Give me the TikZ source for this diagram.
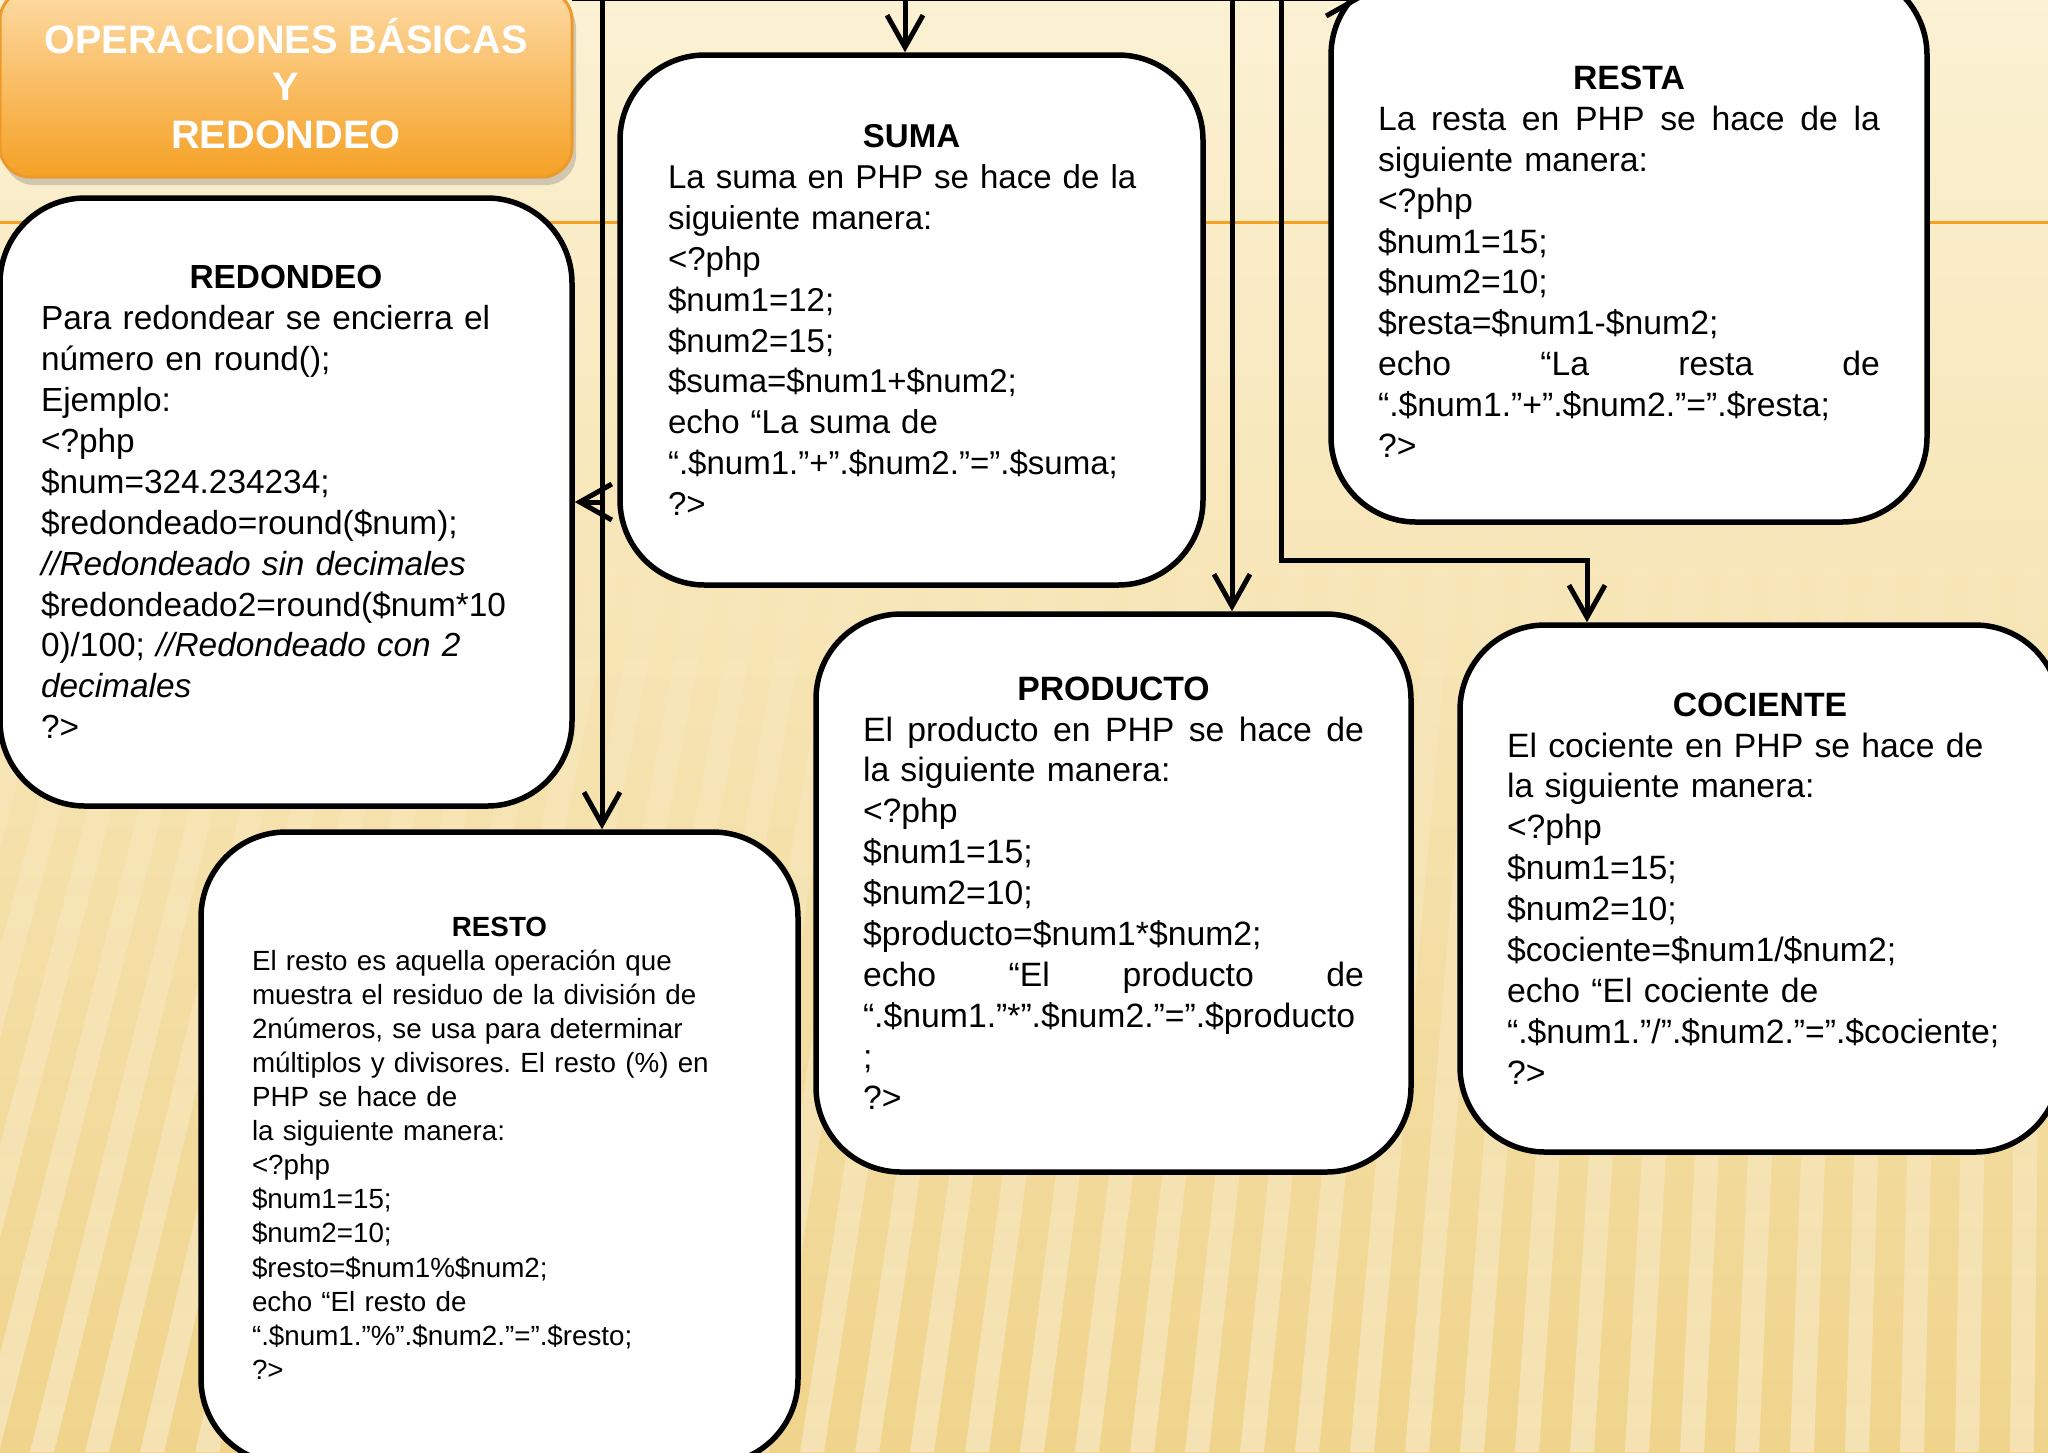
\documentclass[tikz,border=0pt]{standalone}
\usepackage{fontspec}
\setmainfont{Liberation Sans}
\usetikzlibrary{arrows.meta,shadows,fadings}
\frenchspacing
\definecolor{fondoarriba}{HTML}{FBF1D3}
\definecolor{fondoabajo}{HTML}{F0D48C}
\definecolor{naranja}{HTML}{F5A125}
\definecolor{naranjaclaro}{HTML}{FDDAA4}
\definecolor{naranjaborde}{HTML}{EE9A2A}
\newcommand{\cabeza}[1]{\hfill\textbf{#1}\hfill\null\\}
\newcommand{\justa}[2]{\leavevmode\hbox to #1{#2}}
\tikzset{
  caja/.style={draw,line width=.55mm,fill=white,rounded corners=8.5mm,align=left,inner ysep=0pt,font=\fontsize{9.6}{11.65}\selectfont},
  flecha/.style={line width=.5mm,-{Straight Barb[length=3.2mm,width=3.6mm]}},
  portada/.style={draw=naranjaborde,line width=.3mm,rounded corners=3mm,top color=naranjaclaro,bottom color=naranja,text=white,align=center,font=\bfseries\fontsize{11.3}{13.5}\selectfont,drop shadow={opacity=.35,shadow xshift=.4mm,shadow yshift=-.8mm}}
}
\begin{document}
\begin{tikzpicture}[x=.1mm,y=-.1mm]
\useasboundingbox (0,0) rectangle (2048,1452);
\clip (0,0) rectangle (2048,1452);
\fill[top color=fondoarriba,bottom color=fondoabajo] (0,0) rectangle (2048,1452);
\foreach \x in {-300,-245,...,2100} \fill[white,opacity=.35,path fading=north] (\x,1452) -- ++(24,0) -- ({\x+24+.12*(2100-\x)},450) -- ({\x+.12*(2100-\x)},450) -- cycle;
\draw[naranja,line width=.3mm] (0,222) -- (2048,222);

\node[portada,minimum width=57.2mm,minimum height=18.7mm] (titulo) at (286,83.5) {OPERACIONES BÁSICAS\\Y\\REDONDEO};

\node[caja,text width=49mm,inner xsep=4.1mm,minimum height=60.8mm,font=\fontsize{9.5}{11.65}\selectfont] (redondeo) at (286,502) {\cabeza{REDONDEO}
Para redondear se encierra el\\
número en round();\\
Ejemplo:\\
<?php\\
\$num=324.234234;\\
\$redondeado=round(\$num);\\
\textit{//Redondeado sin decimales}\\
\$redondeado2=round(\$num*10\\
0)/100; \textit{//Redondeado con 2}\\
\textit{decimales}\\
?>};

\node[caja,text width=48.7mm,inner xsep=4.8mm,minimum height=53mm,font=\fontsize{9.4}{11.65}\selectfont] (suma) at (911.5,320) {\cabeza{SUMA}
La suma en PHP se hace de la\\
siguiente manera:\\
<?php\\
\$num1=12;\\
\$num2=15;\\
\$suma=\$num1+\$num2;\\
echo “La suma de\\
“.\$num1.”+”.\$num2.”=”.\$suma;\\
?>};

\node[caja,text width=50.2mm,inner xsep=4.7mm,minimum height=55.2mm] (resta) at (1629,246) {\cabeza{\rule{0pt}{5.5mm}RESTA}
\justa{50.2mm}{La\hfill resta\hfill en\hfill PHP\hfill se\hfill hace\hfill de\hfill la}\\
siguiente manera:\\
<?php\\
\$num1=15;\\
\$num2=10;\\
\$resta=\$num1-\$num2;\\
\justa{50.2mm}{echo\hfill “La\hfill resta\hfill de}\\
“.\$num1.”+”.\$num2.”=”.\$resta;\\
?>};

\node[caja,text width=50.1mm,inner xsep=4.7mm,minimum height=55.8mm] (producto) at (1113.5,893) {\cabeza{PRODUCTO}
\justa{50.1mm}{El\hfill producto\hfill en\hfill PHP\hfill se\hfill hace\hfill de}\\
la siguiente manera:\\
<?php\\
\$num1=15;\\
\$num2=10;\\
\$producto=\$num1*\$num2;\\
\justa{50.1mm}{echo\hfill “El\hfill producto\hfill de}\\
“.\$num1.”*”.\$num2.”=”.\$producto\\
;\\
?>};

\node[caja,text width=50.6mm,inner xsep=4.7mm,minimum height=52.7mm] (cociente) at (1760,888.5) {\cabeza{COCIENTE}
El cociente en PHP se hace de\\
la siguiente manera:\\
<?php\\
\$num1=15;\\
\$num2=10;\\
\$cociente=\$num1/\$num2;\\
echo “El cociente de\\
“.\$num1.”/”.\$num2.”=”.\$cociente;\\
?>};

\node[caja,text width=49.5mm,inner xsep=5.1mm,minimum height=63.2mm,font=\fontsize{7.9}{9.7}\selectfont] (resto) at (499.5,1148) {\cabeza{RESTO}
El resto es aquella operación que\\
muestra el residuo de la división de\\
2números, se usa para determinar\\
múltiplos y divisores. El resto (\%) en\\
PHP se hace de\\
la siguiente manera:\\
<?php\\
\$num1=15;\\
\$num2=10;\\
\$resto=\$num1\%\$num2;\\
echo “El resto de\\
“.\$num1.”\%”.\$num2.”=”.\$resto;\\
?>};

\coordinate (bus) at (572,-2);
\coordinate (b1) at (602,-2);
\coordinate (b2) at (1232,-2);
\coordinate (b3) at (1281,-2);
\coordinate (b4) at (1587,560);
\draw[flecha] (bus) -- ([xshift=3.5mm]resta.west |- bus);
\draw[flecha] ([xshift=-.65mm]suma.north |- bus) -- ([xshift=-.65mm]suma.north);
\draw[flecha] (b1) -- (b1 |- resto.north);
\draw[flecha] (b1 |- redondeo.east) -- (redondeo.east);
\draw[flecha] (b2) -- (b2 |- producto.north);
\draw[flecha] (b3) |- (b4) -- (b4 |- cociente.north);
\end{tikzpicture}
\end{document}
